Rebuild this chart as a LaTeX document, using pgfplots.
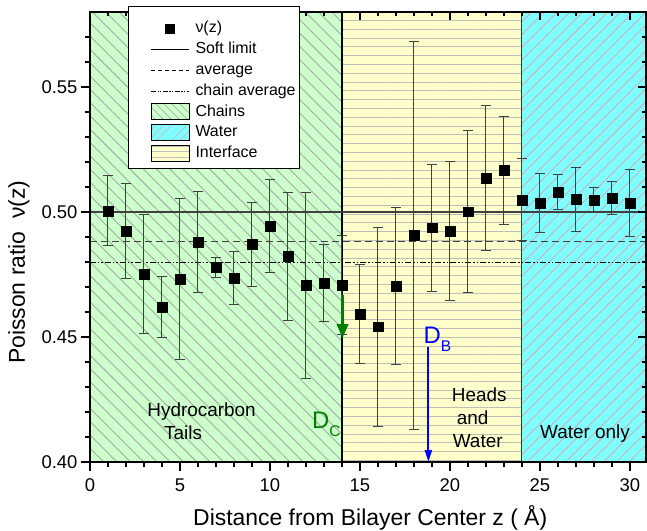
\documentclass[border=0pt]{standalone}
\usepackage{fontspec}
\setmainfont{Liberation Sans}
\usepackage{pgfplots}
\usepackage{pgfplotstable}
\pgfplotsset{compat=1.18}
\usetikzlibrary{patterns.meta,arrows.meta}

\definecolor{chaingreen}{RGB}{204,255,204}
\definecolor{chainhatch}{RGB}{165,170,165}
\definecolor{watercyan}{RGB}{128,255,255}
\definecolor{waterhatch}{RGB}{205,175,185}
\definecolor{ifyellow}{RGB}{255,255,204}
\definecolor{ifline}{RGB}{190,190,185}
\definecolor{dcgreen}{RGB}{0,128,0}

% z (A), Poisson ratio, error
\pgfplotstableread{
z nu err
1 0.5004 0.0140
2 0.4923 0.0190
3 0.4751 0.0237
4 0.4620 0.0123
5 0.4732 0.0320
6 0.4880 0.0200
7 0.4779 0.0040
8 0.4735 0.0105
9 0.4871 0.0168
10 0.4943 0.0185
11 0.4823 0.0255
12 0.4707 0.0372
13 0.4716 0.0152
14 0.4707 0.0198
15 0.4591 0.0198
16 0.4541 0.0397
17 0.4704 0.0313
18 0.4907 0.0776
19 0.4937 0.0254
20 0.4923 0.0278
21 0.5001 0.0323
22 0.5135 0.0290
23 0.5167 0.0216
24 0.5048 0.0164
25 0.5036 0.0119
26 0.5079 0.0070
27 0.5051 0.0128
28 0.5048 0.0050
29 0.5056 0.0067
30 0.5036 0.0134
}\nudata

\pgfplotsset{
  base/.style={
    scale only axis, width=556bp, height=450bp,
    xmin=0, xmax=30.89, ymin=0.40, ymax=0.58,
    axis line style={line width=1.4bp},
    every tick/.style={black, line width=1.2bp},
    xtick={0,5,...,30}, minor xtick={0,1,...,30},
    ytick={0.40,0.45,0.50,0.55},
    minor ytick={0.41,0.42,0.43,0.44,0.46,0.47,0.48,0.49,0.51,0.52,0.53,0.54,0.56,0.57},
  },
}

\begin{document}
\begin{tikzpicture}
\begin{axis}[base, axis on top,
    tick align=outside, xtick pos=left, ytick pos=left,
    major tick length=9bp, minor tick length=5bp,
    /pgf/number format/assume math mode=true,
    tick label style={font=\fontsize{18.5}{18.5}\selectfont},
    xticklabel style={yshift=-4bp},
    yticklabel style={/pgf/number format/.cd, fixed, fixed zerofill, precision=2},
    xlabel={Distance from Bilayer Center z ( Å)},
    ylabel={Poisson ratio\ \ ν(z)},
    label style={font=\fontsize{23}{23}\selectfont},
    xlabel style={at={(axis description cs:0.504,-0.124)}, anchor=center},
    ylabel style={at={(axis description cs:-0.128,0.422)}, anchor=center},
]
% regions
\addplot[draw=none, fill=chaingreen, forget plot] coordinates {(0,0.40) (14,0.40) (14,0.58) (0,0.58)};
\addplot[draw=none, pattern={Lines[angle=-45,distance=9.4bp,line width=0.9bp]}, pattern color=chainhatch, forget plot] coordinates {(0,0.40) (14,0.40) (14,0.58) (0,0.58)};
\addplot[draw=none, fill=ifyellow, forget plot] coordinates {(14,0.40) (24,0.40) (24,0.58) (14,0.58)};
\addplot[draw=none, pattern={Lines[angle=0,distance=8.8bp,line width=1bp]}, pattern color=ifline, forget plot] coordinates {(14,0.40) (24,0.40) (24,0.58) (14,0.58)};
\addplot[draw=none, fill=watercyan, forget plot] coordinates {(24,0.40) (31,0.40) (31,0.58) (24,0.58)};
\addplot[draw=none, pattern={Lines[angle=45,distance=9bp,line width=0.9bp]}, pattern color=waterhatch, forget plot] coordinates {(24,0.40) (31,0.40) (31,0.58) (24,0.58)};

% boundaries
\addplot[black, line width=2bp, forget plot] coordinates {(14,0.40) (14,0.58)};
\addplot[black!80, line width=1bp, forget plot] coordinates {(24,0.40) (24,0.58)};

% reference levels
\addplot[black!75, line width=1.4bp, forget plot] coordinates {(0,0.500) (31,0.500)};
\addplot[black!75, line width=1.4bp, dash pattern=on 7bp off 4bp, forget plot] coordinates {(0,0.4881) (31,0.4881)};
\addplot[black, line width=1.1bp, dash pattern=on 6bp off 2bp on 1.5bp off 2bp on 1.5bp off 2bp, forget plot] coordinates {(0,0.4799) (31,0.4799)};

% data
\addplot[only marks, mark=square*, mark size=4.8bp, black, forget plot,
    error bars/.cd, y dir=both, y explicit,
    error bar style={line width=1bp, black!75},
    error mark options={rotate=90, mark size=5bp, line width=1bp, black!75}]
    table[x=z, y=nu, y error=err] {\nudata};

% arrows
\addplot[dcgreen, line width=3bp, -{Triangle[width=11bp,length=14bp]}, forget plot] coordinates {(14.03,0.4668) (14.03,0.4495)};
\addplot[blue, line width=2bp, -{Triangle[width=7bp,length=12bp]}, forget plot] coordinates {(18.8,0.4461) (18.8,0.400)};

% labels
\node[anchor=base west, inner sep=0pt, font=\fontsize{24}{24}\selectfont, text=dcgreen] at (axis cs:12.33,0.4136) {D\raisebox{-8bp}{\fontsize{15.5}{15.5}\selectfont C}};
\node[anchor=base west, inner sep=0pt, font=\fontsize{24}{24}\selectfont, text=blue] at (axis cs:18.52,0.4476) {D\raisebox{-8bp}{\fontsize{15.5}{15.5}\selectfont B}};
\node[font=\fontsize{19}{19}\selectfont] at (axis cs:6.2,0.4201) {Hydrocarbon};
\node[font=\fontsize{19}{19}\selectfont] at (axis cs:5.17,0.4116) {Tails};
\node[font=\fontsize{19}{19}\selectfont] at (axis cs:21.63,0.4268) {Heads};
\node[font=\fontsize{19}{19}\selectfont] at (axis cs:21.26,0.4179) {and};
\node[font=\fontsize{19}{19}\selectfont] at (axis cs:21.54,0.4085) {Water};
\node[font=\fontsize{19}{19}\selectfont] at (axis cs:27.5,0.4112) {Water only};
\end{axis}

\begin{axis}[base,
    tick align=inside, xtick pos=right, ytick pos=right,
    major tick length=8bp, minor tick length=4bp,
    xticklabels={}, yticklabels={},
    legend cell align=left,
    legend style={at={(0.0689,1.014)}, anchor=north west, draw=black, line width=1bp, fill=white,
        font=\fontsize{16}{16}\selectfont, inner xsep=4bp, inner ysep=6bp, row sep=3.3bp,
        nodes={inner xsep=0bp, inner ysep=1bp, text height=12bp, text depth=3.5bp}},
]
\addlegendimage{legend image code/.code={\path (-17.7bp,16bp) (44bp,0bp); \draw[black] plot[only marks, mark=square*, mark size=4.4bp] coordinates {(19bp,0bp)};}}
\addlegendentry{ν(z)}
\addlegendimage{legend image code/.code={\path (-17.7bp,0bp) (44bp,0bp); \draw[black, line width=1.2bp] (0bp,0bp) -- (38bp,0bp);}}
\addlegendentry{Soft limit}
\addlegendimage{legend image code/.code={\path (-17.7bp,0bp) (44bp,0bp); \draw[black, line width=1.2bp, dash pattern=on 4bp off 3bp] (0bp,0bp) -- (38bp,0bp);}}
\addlegendentry{average}
\addlegendimage{legend image code/.code={\path (-17.7bp,0bp) (44bp,0bp); \draw[black, line width=1bp, dash pattern=on 5bp off 1.5bp on 1.2bp off 1.5bp on 1.2bp off 1.5bp] (0bp,0bp) -- (38bp,0bp);}}
\addlegendentry{chain average}
\addlegendimage{legend image code/.code={\path (-17.7bp,0bp) (44bp,0bp); \fill[chaingreen] (0bp,-8bp) rectangle (38bp,8bp); \path[pattern={Lines[angle=-45,distance=6bp,line width=0.8bp]}, pattern color=chainhatch] (0bp,-8bp) rectangle (38bp,8bp); \draw[black, line width=1bp] (0bp,-8bp) rectangle (38bp,8bp);}}
\addlegendentry{Chains}
\addlegendimage{legend image code/.code={\path (-17.7bp,0bp) (44bp,0bp); \fill[watercyan] (0bp,-8bp) rectangle (38bp,8bp); \path[pattern={Lines[angle=45,distance=6bp,line width=0.8bp]}, pattern color=waterhatch] (0bp,-8bp) rectangle (38bp,8bp); \draw[black, line width=1bp] (0bp,-8bp) rectangle (38bp,8bp);}}
\addlegendentry{Water}
\addlegendimage{legend image code/.code={\path (-17.7bp,0bp) (44bp,0bp); \fill[ifyellow] (0bp,-8bp) rectangle (38bp,8bp); \path[pattern={Lines[angle=0,distance=5.5bp,line width=0.8bp]}, pattern color=ifline] (0bp,-8bp) rectangle (38bp,8bp); \draw[black, line width=1bp] (0bp,-8bp) rectangle (38bp,8bp);}}
\addlegendentry{Interface}
\end{axis}
\pgfresetboundingbox
\path (-90bp,-69bp) rectangle (557bp,462bp);
\end{tikzpicture}
\end{document}
